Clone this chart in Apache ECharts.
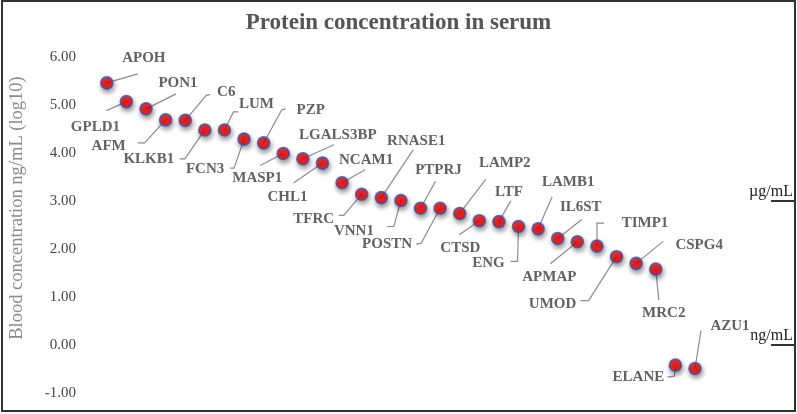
<!DOCTYPE html>
<html>
<head>
<meta charset="utf-8">
<script src="https://cdn.jsdelivr.net/npm/echarts@6/dist/echarts.min.js"></script>
<style>html,body{margin:0;padding:0;background:#fff}#c{width:797px;height:414px}</style>
</head>
<body>
<div id="c"></div>
<script>
const proteins = ['APOH','GPLD1','PON1','AFM','C6','KLKB1','LUM','FCN3','PZP','MASP1','LGALS3BP','CHL1','NCAM1','TFRC','RNASE1','VNN1','PTPRJ','POSTN','LAMP2','CTSD','LTF','ENG','LAMB1','IL6ST','APMAP','TIMP1','UMOD','CSPG4','MRC2','ELANE','AZU1'];
const log10Conc = [5.46,5.07,4.92,4.69,4.68,4.48,4.48,4.29,4.21,3.99,3.88,3.79,3.38,3.14,3.07,3.01,2.85,2.85,2.74,2.59,2.57,2.47,2.42,2.22,2.15,2.06,1.84,1.70,1.58,-0.42,-0.49];
const yTicks = [-1,0,1,2,3,4,5,6];
const unitValues = [3, 0];
const unitLabels = ['µg/mL', 'ng/mL'];

// label layout: [textDx, textDy, bendDx, bendDy, endDx, endDy] (pixels relative to point)
const labelOffsets = [
  [37,-25,31,-9,31,-9],[-31,25,-20,9,-20,9],[32,-26,30,-15,30,-15],[-57,26,-21,23,-28,23],
  [41,-28,21,-25,25,-26],[-56,29,-20,29,-25,29],[32,-26,9,-18,14,-18],[-39,30,-10,29,-14,29],
  [47,-33,18,-33,22,-34],[-26,25,-23,12,-23,12],[35,-24,31,-14,31,-14],[-35,34,-29,20,-29,20],
  [24,-23,23,-13,23,-13],[-48,25,-18,21,-23,21],[35,-57,32,-48,32,-48],[-47,31,-7,26,-14,26],
  [18,-38,15,-27,15,-27],[-53,36,-19,35,-24,36],[45,-50,26,-34,26,-34],[-19,27,-20,14,-20,14],
  [10,-30,12,-21,12,-21],[-30,37,-1,35,-8,35],[30,-47,14,-32,14,-32],[23,-31,24,-19,24,-19],
  [-28,35,-27,22,-27,22],[48,-23,0,-23,7,-23],[-64,47,-28,44,-36,44],[63,-18,27,-22,27,-22],
  [8,44,3,31,3,31],[-37,12,-1,11,-8,12],[35,-42,6,-38,6,-38]
];

const SERIF = '"Liberation Serif","Times New Roman",serif';
const chart = echarts.init(document.getElementById('c'), null, {renderer: 'canvas'});
const pointData = proteins.map((p, i) => [i, log10Conc[i]]);

chart.setOption({
  backgroundColor: '#ffffff',
  animation: false,
  title: {
    text: 'Protein concentration in serum',
    left: 'center', top: 7,
    textStyle: {fontFamily: SERIF, fontWeight: 'bold', fontSize: 23, color: '#555555'}
  },
  grid: {left: 96.2, right: 92.2, top: 57, bottom: 21, containLabel: false},
  xAxis: {
    type: 'category', data: proteins, boundaryGap: true,
    axisLine: {show: false}, axisTick: {show: false}, axisLabel: {show: false}, splitLine: {show: false}
  },
  yAxis: {
    type: 'value', min: yTicks[0], max: yTicks[yTicks.length - 1], interval: 1,
    name: 'Blood concentration ng/mL (log10)', nameLocation: 'middle', nameGap: 70,
    nameTextStyle: {fontFamily: SERIF, fontSize: 18.5, color: '#8a8a8a', padding: [0, 0, 0, 34]},
    axisLine: {show: false}, axisTick: {show: false}, splitLine: {show: false},
    axisLabel: {margin: 21, fontFamily: SERIF, fontSize: 15, color: '#444444', formatter: v => v.toFixed(2)}
  },
  graphic: [{
    type: 'rect', shape: {x: 2, y: 1, width: 793, height: 410},
    style: {fill: null, stroke: '#333333', lineWidth: 2}, z: 100, silent: true
  }],
  series: [
    {
      type: 'custom', z: 2, clip: false,
      data: pointData,
      renderItem: function (params, api) {
        const i = params.dataIndex;
        const p = api.coord([api.value(0), api.value(1)]);
        const o = labelOffsets[i];
        return {
          type: 'group',
          children: [
            {type: 'polyline', shape: {points: [[p[0], p[1]], [p[0] + o[2], p[1] + o[3]], [p[0] + o[4], p[1] + o[5]]]},
             style: {stroke: '#8c8c8c', lineWidth: 1.2, fill: null}},
            {type: 'text', x: p[0] + o[0], y: p[1] + o[1],
             style: {text: proteins[i], align: 'center', verticalAlign: 'middle', fill: '#626262',
                     font: 'bold 15px ' + SERIF}}
          ]
        };
      }
    },
    {
      type: 'scatter', z: 5,
      data: pointData,
      symbol: 'circle', symbolSize: 12,
      itemStyle: {color: '#ff0000', borderColor: '#2f55b5', borderWidth: 1.6,
                  shadowBlur: 5, shadowColor: 'rgba(0,0,0,0.5)', shadowOffsetX: 1, shadowOffsetY: 3}
    },
    {
      type: 'custom', z: 3, clip: false,
      data: unitValues.map(v => [0, v]),
      renderItem: function (params, api) {
        const i = params.dataIndex;
        const y = api.coord([0, api.value(1)])[1];
        const W = api.getWidth();
        return {
          type: 'group',
          children: [
            {type: 'text', x: W - 4, y: y - 1,
             style: {text: unitLabels[i], align: 'right', verticalAlign: 'bottom', fill: '#222222',
                     font: '16px ' + SERIF}},
            {type: 'line', shape: {x1: W - 26, y1: y, x2: W - 2, y2: y},
             style: {stroke: '#333333', lineWidth: 2}}
          ]
        };
      }
    }
  ]
});
</script>
</body>
</html>
